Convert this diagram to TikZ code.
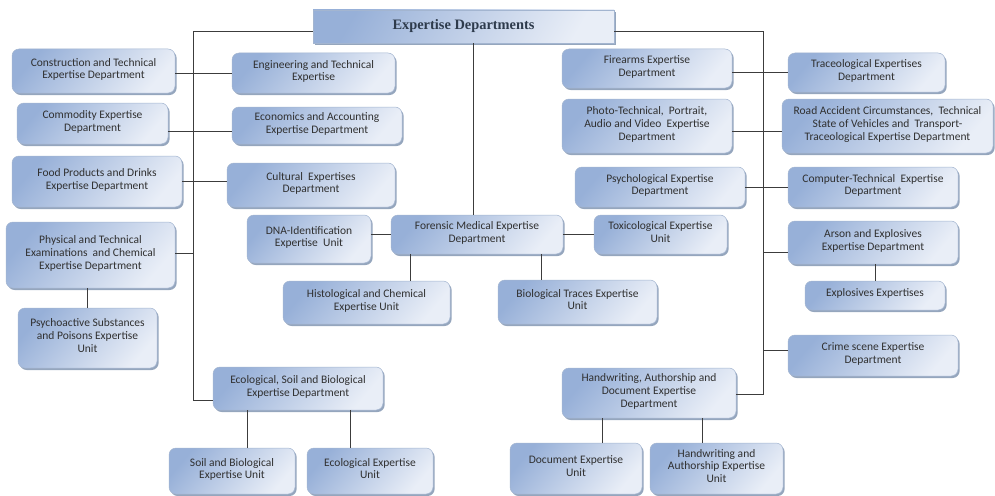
\documentclass[tikz,border=0pt]{standalone}
\usepackage{fontspec}
\setmainfont{Carlito}
\newfontfamily\titlefont{Liberation Serif}
\usetikzlibrary{shadows}
\definecolor{bxdark}{HTML}{97B0D8}
\definecolor{bxlight}{HTML}{E9EEF7}
\definecolor{bxedge}{HTML}{A3B5D0}
\definecolor{shad}{HTML}{8396B2}
\definecolor{txt}{HTML}{303030}
\definecolor{ttxt}{HTML}{2E3B4C}
\definecolor{ln}{HTML}{3C3C3C}
\tikzset{
  bx/.style={rectangle, rounded corners=7pt, draw=bxedge, line width=0.5pt,
    top color=bxdark, bottom color=bxlight, shading angle=50,
    drop shadow={shadow xshift=1.6pt, shadow yshift=-2pt, fill=shad, opacity=0.85},
    text=txt, align=center, inner sep=2pt,
    font=\fontsize{11.5}{12.6}\selectfont,
    execute at end node={\rule[-5pt]{0pt}{5pt}}},
  titlebx/.style={rectangle, draw=bxedge, line width=0.5pt,
    top color=bxdark, bottom color=bxlight, shading angle=60,
    drop shadow={shadow xshift=1.6pt, shadow yshift=-2pt, fill=shad, opacity=0.85},
    text=ttxt, font=\titlefont\bfseries\fontsize{14.4}{16}\selectfont},
  ln/.style={draw=ln, line width=0.9pt}
}
\begin{document}
\begin{tikzpicture}[x=1pt,y=-1pt]
\useasboundingbox (0,0) rectangle (995,495);
% title
\node[titlebx, minimum width=301pt, minimum height=33pt] (title) at (463.5,26.5) {Expertise Departments};
% left column
\node[bx, minimum width=163pt, minimum height=44pt] (con) at (93.5,71) {Construction and Technical\\Expertise Department};
\node[bx, minimum width=163pt, minimum height=40pt] (eng) at (313.5,73) {Engineering and Technical\\Expertise};
\node[bx, minimum width=151pt, minimum height=41pt] (com) at (92.5,123.5) {Commodity Expertise\\Department};
\node[bx, minimum width=170pt, minimum height=37pt] (eco) at (317,125.5) {Economics and Accounting\\Expertise Department};
\node[bx, minimum width=170pt, minimum height=51pt] (food) at (97,181.5) {Food Products and Drinks\\Expertise Department};
\node[bx, minimum width=168pt, minimum height=44pt] (cul) at (311,185) {Cultural\ \ Expertises\\Department};
\node[bx, minimum width=169pt, minimum height=66pt] (phys) at (90.5,255) {Physical and Technical\\Examinations\ \ and Chemical\\Expertise Department};
\node[bx, minimum width=139pt, minimum height=60pt] (psy) at (87.5,338) {Psychoactive Substances\\and Poisons Expertise\\Unit};
\node[bx, minimum width=170pt, minimum height=43pt] (ecol) at (298,388.5) {Ecological, Soil and Biological\\Expertise Department};
\node[bx, minimum width=126pt, minimum height=46pt] (soil) at (232,471) {Soil and Biological\\Expertise Unit};
\node[bx, minimum width=126pt, minimum height=46pt] (ecu) at (370,471) {Ecological Expertise\\Unit};
% centre
\node[bx, minimum width=124pt, minimum height=48pt] (dna) at (309,239) {DNA-Identification\\Expertise\ \ Unit};
\node[bx, minimum width=172pt, minimum height=39pt] (for) at (477,234.5) {Forensic Medical Expertise\\Department};
\node[bx, minimum width=133pt, minimum height=39pt] (tox) at (660.5,234.5) {Toxicological Expertise\\Unit};
\node[bx, minimum width=167pt, minimum height=43pt] (hist) at (366.5,302.5) {Histological and Chemical\\Expertise Unit};
\node[bx, minimum width=159pt, minimum height=44pt] (bio) at (577.5,302) {Biological Traces Expertise\\Unit};
% right
\node[bx, minimum width=170pt, minimum height=39pt] (fire) at (647,68.5) {Firearms Expertise\\Department};
\node[bx, minimum width=157pt, minimum height=39pt] (trace) at (866.5,72.5) {Traceological Expertises\\Department};
\node[bx, minimum width=170pt, minimum height=54pt] (photo) at (647,126) {Photo-Technical,\ \ Portrait,\\Audio and Video\ \ Expertise\\Department};
\node[bx, minimum width=211pt, minimum height=54pt] (road) at (887.5,126) {Road Accident Circumstances,\ \ Technical\\State of Vehicles and\ \ Transport-\\Traceological Expertise Department};
\node[bx, minimum width=170pt, minimum height=40pt] (psych) at (660,187) {Psychological Expertise\\Department};
\node[bx, minimum width=170pt, minimum height=40pt] (comp) at (873,187) {Computer-Technical\ \ Expertise\\Department};
\node[bx, minimum width=170pt, minimum height=43pt] (arson) at (873,242.5) {Arson and Explosives\\Expertise Department};
\node[bx, minimum width=140pt, minimum height=29pt] (expl) at (875,295.5) {Explosives Expertises};
\node[bx, minimum width=170pt, minimum height=41pt] (crime) at (873,355.5) {Crime scene Expertise\\Department};
\node[bx, minimum width=174pt, minimum height=50pt] (hand) at (649,393) {Handwriting, Authorship and\\Document Expertise\\Department};
\node[bx, minimum width=132pt, minimum height=51pt] (doc) at (576,468.5) {Document Expertise\\Unit};
\node[bx, minimum width=133pt, minimum height=51pt] (haw) at (716.5,468.5) {Handwriting and\\Authorship Expertise\\Unit};
% trunk coordinates
\coordinate (lt) at (193,31);
\coordinate (lb) at (193,400);
\coordinate (rt) at (763,31.5);
\coordinate (rb) at (763,394.5);
% left trunk
\draw[ln] ([yshift=-4.5pt]title.west) -- (lt) -- (lb) -- (ecol.west |- lb);
\draw[ln] (con.east |- eng.west) -- (eng.west);
\path ([yshift=-5.5pt]eco.west) coordinate (c2);
\draw[ln] (com.east |- c2) -- (c2);
\draw[ln] (food.east) -- (food.east -| cul.west);
\draw[ln] ([yshift=2pt]phys.east) -- ([yshift=2pt]phys.east -| lt);
\draw[ln] (phys.south -| psy.north) -- (psy.north);
\path ([xshift=-51pt]ecol.south) coordinate (e1);
\draw[ln] (e1) -- (e1 |- soil.north);
\path ([xshift=52pt]ecol.south) coordinate (e2);
\draw[ln] (e2) -- (e2 |- ecu.north);
% right trunk
\draw[ln] ([yshift=-5pt]title.east) -- (rt) -- (rb) -- (rb -| hand.east);
\draw[ln] (fire.east |- trace.west) -- (trace.west);
\draw[ln] ([yshift=-5pt]photo.east) -- ([yshift=-5pt]road.west);
\draw[ln] (psych.east) -- (comp.west);
\path ([yshift=-9.5pt]arson.west) coordinate (a1);
\draw[ln] (a1) -- (a1 -| rt);
\draw[ln] (arson.south -| expl.north) -- (expl.north);
\path ([yshift=5.5pt]crime.west) coordinate (cr);
\draw[ln] (cr) -- (cr -| rt);
\path ([xshift=-47pt]hand.south) coordinate (h1);
\draw[ln] (h1) -- (h1 |- doc.north);
\path ([xshift=53pt]hand.south) coordinate (h2);
\draw[ln] (h2) -- (h2 |- haw.north);
% centre
\path ([xshift=-4pt]for.north) coordinate (f0);
\draw[ln] (f0 |- title.south) -- (f0);
\draw[ln] (dna.east |- for.west) -- (for.west);
\draw[ln] (for.east) -- (tox.west);
\path ([xshift=-67pt]for.south) coordinate (f1);
\draw[ln] (f1) -- (f1 |- hist.north);
\path ([xshift=64pt]for.south) coordinate (f2);
\draw[ln] (f2) -- (f2 |- bio.north);
\end{tikzpicture}
\end{document}
